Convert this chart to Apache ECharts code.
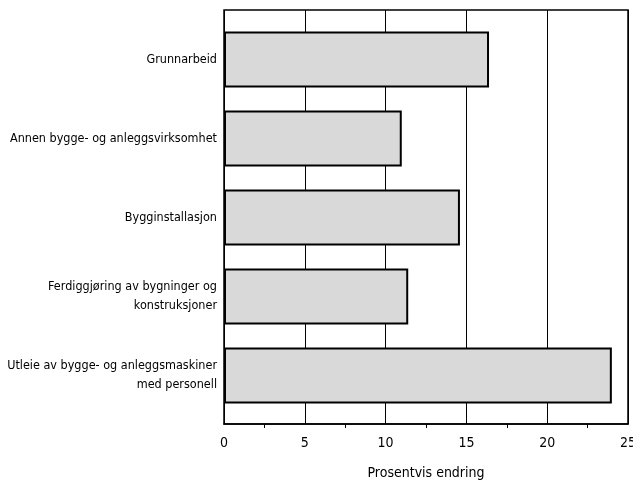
<!DOCTYPE html>
<html><head><meta charset="utf-8">
<script src="https://cdn.jsdelivr.net/npm/echarts@6/dist/echarts.min.js"></script>
<style>html,body{margin:0;padding:0;background:#fff}#c{width:633px;height:491px}</style>
</head><body><div id="c"></div>
<script>
var categories = ['Grunnarbeid', 'Annen bygge- og anleggsvirksomhet', 'Bygginstallasjon', 'Ferdiggjøring av bygninger og\nkonstruksjoner', 'Utleie av bygge- og anleggsmaskiner\nmed personell'];
var values = [16.4, 11.0, 14.6, 11.4, 24.0];
var xTicks = [0, 5, 10, 15, 20, 25];
var font = '"Liberation Sans Narrow", "DejaVu Sans Condensed", "Liberation Sans", sans-serif';
var xMin = xTicks[0], xMax = xTicks[xTicks.length - 1];
var chart = echarts.init(document.getElementById('c'));
chart.setOption({
  animation: false,
  grid: [
    { left: 224, right: 5, top: 10, bottom: 67, containLabel: false, outerBoundsMode: 'none', show: true, borderColor: '#000', borderWidth: 1.5, backgroundColor: 'transparent' },
    { left: 224, right: 5, top: 20, bottom: 76, containLabel: false, outerBoundsMode: 'none', show: false }
  ],
  xAxis: [{
    gridIndex: 0, type: 'value', min: xMin, max: xMax, interval: 5,
    name: 'Prosentvis endring', nameLocation: 'middle', nameGap: 42,
    nameTextStyle: { fontFamily: font, fontSize: 14, color: '#000' },
    axisLine: { show: true, lineStyle: { color: '#000', width: 1.5 } },
    axisTick: { show: false },
    minorTick: { show: true, splitNumber: 2, length: 4, lineStyle: { color: '#000', width: 1 } },
    axisLabel: { fontFamily: font, fontSize: 14, color: '#000', margin: 12 },
    splitLine: { show: true, lineStyle: { color: '#000', width: 1 } }
  }, {
    gridIndex: 1, type: 'value', min: xMin, max: xMax, show: false,
    splitLine: { show: false }
  }],
  yAxis: [{
    gridIndex: 0, type: 'category', data: categories, show: false
  }, {
    gridIndex: 1, type: 'category', data: categories, inverse: true,
    axisLine: { show: false },
    axisTick: { show: false },
    axisLabel: { fontFamily: font, fontSize: 12.5, color: '#000', margin: 7, lineHeight: 19, align: 'right' },
    splitLine: { show: false }
  }],
  series: [{
    type: 'bar', data: values, barWidth: '71%', xAxisIndex: 1, yAxisIndex: 1,
    itemStyle: { color: '#d9d9d9', borderColor: '#000', borderWidth: 2 }
  }]
});
</script></body></html>
